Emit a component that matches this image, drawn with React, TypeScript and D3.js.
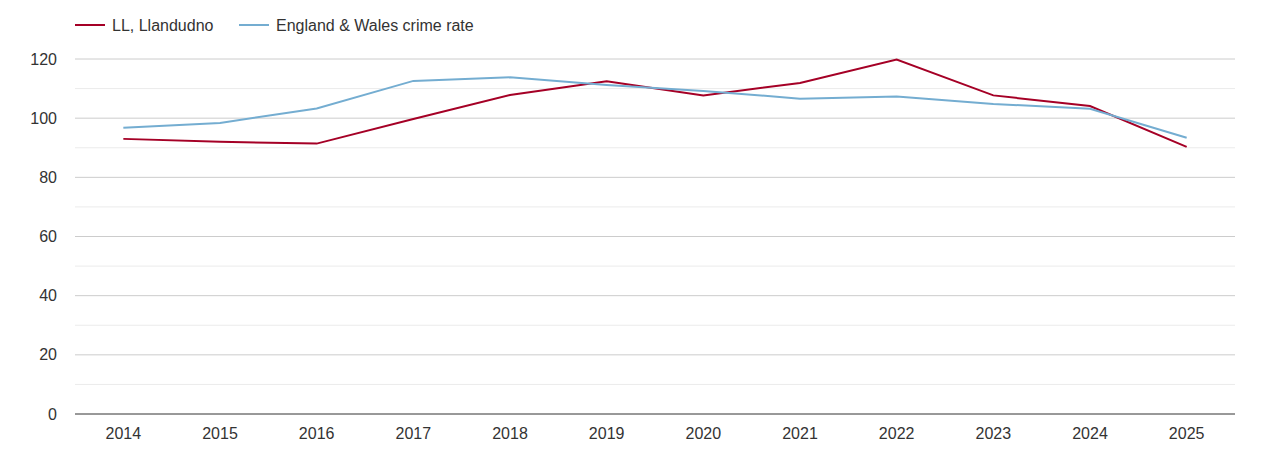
import * as d3 from "d3";

const years = ["2014", "2015", "2016", "2017", "2018", "2019", "2020", "2021", "2022", "2023", "2024", "2025"];
const llandudno = [93.0, 92.0, 91.4, 99.7, 107.8, 112.5, 107.7, 111.9, 119.8, 107.7, 104.1, 90.3];
const englandWales = [96.8, 98.4, 103.3, 112.6, 113.8, 111.2, 109.2, 106.6, 107.3, 104.8, 103.2, 93.4];
const yTicks = [0, 20, 40, 60, 80, 100, 120];
const minorTicks = [10, 30, 50, 70, 90, 110];

const width = 1270;
const height = 450;
const margin = { top: 59, right: 35, bottom: 36, left: 75 };
const font = "'Liberation Sans', Arial, sans-serif";

function App() {
	const x = d3
		.scaleBand()
		.domain(years)
		.range([margin.left, width - margin.right]);
	const y = d3
		.scaleLinear()
		.domain([0, 120])
		.range([height - margin.bottom, margin.top]);

	const line = d3
		.line<number>()
		.x((_, i) => (x(years[i]) as number) + x.bandwidth() / 2)
		.y((d) => y(d));

	const series = [
		{ name: "LL, Llandudno", color: "#a50026", values: llandudno },
		{ name: "England & Wales crime rate", color: "#74add1", values: englandWales },
	];
	const legendX = [75, 239];

	return (
		<svg
			width={width}
			height={height}
			style={{ position: "absolute", left: 0, top: 0, fontFamily: font }}
		>
			<g>
				{minorTicks.map((t) => (
					<line key={"m" + t} x1={margin.left} x2={width - margin.right} y1={y(t)} y2={y(t)} stroke="#ebebeb" />
				))}
				{yTicks.map((t) => (
					<g key={t}>
						{t > 0 && (
							<line x1={margin.left} x2={width - margin.right} y1={y(t)} y2={y(t)} stroke="#cccccc" />
						)}
						<text x={57} y={y(t)} dy="0.35em" textAnchor="end" fontSize={16} fill="#333">
							{t}
						</text>
					</g>
				))}
				<line
					x1={margin.left}
					x2={width - margin.right}
					y1={y(0)}
					y2={y(0)}
					stroke="#333"
				/>
				{years.map((yr) => (
					<text
						key={yr}
						x={(x(yr) as number) + x.bandwidth() / 2}
						y={height - margin.bottom + 25}
						textAnchor="middle"
						fontSize={16}
						fill="#333"
					>
						{yr}
					</text>
				))}
			</g>
			{series.map((s) => (
				<path key={s.name} d={line(s.values) as string} fill="none" stroke={s.color} strokeWidth={2} />
			))}
			{series.map((s, i) => (
				<g key={"l" + s.name} transform={`translate(${legendX[i]}, 25)`}>
					<line x1={0} x2={30} y1={0} y2={0} stroke={s.color} strokeWidth={2} />
					<text x={37} y={0} dy="0.35em" fontSize={16} fill="#333">
						{s.name}
					</text>
				</g>
			))}
		</svg>
	);
}
export default App;
